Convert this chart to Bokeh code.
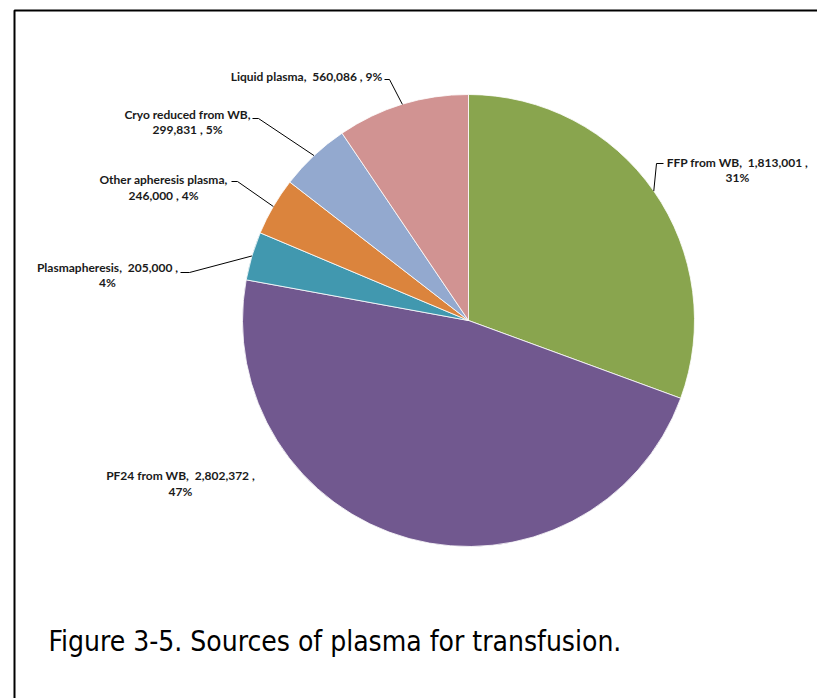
import math
from bokeh.plotting import figure
from bokeh.models import Range1d
from bokeh.core.properties import value
from bokeh.embed import file_html
from bokeh.resources import INLINE

# ---- data ----
categories = ["FFP from WB", "PF24 from WB", "Plasmapheresis",
              "Other apheresis plasma", "Cryo reduced from WB", "Liquid plasma"]
units = [1813001, 2802372, 205000, 246000, 299831, 560086]
percent_labels = [31, 47, 4, 4, 5, 9]
colors = ["#89A54E", "#71588F", "#4198AF", "#DB843D", "#93A9CF", "#D19392"]
title_text = "Figure 3-5. Sources of plasma for transfusion."

# ---- layout (screen-like coordinates) ----
W, H = 817, 698
CX, CY, R = 468, 320, 226
LABEL_FONT = value("Lato")
LABEL_SIZE = "12px"
SP2 = "\u00a0 "  # double space that survives svg whitespace collapsing

total = sum(units)
fracs = [u / total for u in units]

p = figure(width=W, height=H, output_backend="svg", toolbar_location=None,
           x_range=Range1d(0, W), y_range=Range1d(H, 0),
           min_border=0, outline_line_color=None)
p.axis.visible = False
p.grid.visible = False
p.background_fill_color = "white"
p.border_fill_color = "white"

# frame border
p.line([14, 14, 840], [720, 10, 10], line_color="black", line_width=2)

# wedges (clockwise from 12 o'clock)
starts, ends, mids = [], [], []
cum = 0.0
for f in fracs:
    a0 = math.pi / 2 - cum * 2 * math.pi
    cum += f
    a1 = math.pi / 2 - cum * 2 * math.pi
    starts.append(a0)
    ends.append(a1)
    mids.append((a0 + a1) / 2)

p.wedge(x=[CX] * len(units), y=[CY] * len(units), radius=R,
        start_angle=starts, end_angle=ends, direction="clock",
        fill_color=colors, line_color="white", line_width=0.8)

# label texts
def fmt(n):
    return f"{n:,}"

c, u, pc = categories, units, percent_labels
label_lines = {
    0: [f"{c[0]},{SP2}{fmt(u[0])} ,", f"{pc[0]}%"],
    1: [f"{c[1]},{SP2}{fmt(u[1])} ,", f"{pc[1]}%"],
    2: [f"{c[2]},{SP2}{fmt(u[2])} ,", f"{pc[2]}%"],
    3: [f"{c[3]},", f"{fmt(u[3])} , {pc[3]}%"],
    4: [f"{c[4]},", f"{fmt(u[4])} , {pc[4]}%"],
    5: [f"{c[5]},{SP2}{fmt(u[5])} , {pc[5]}%"],
}
label_pos = {  # center x, first-line y, line step
    0: (737, 162, 15),
    1: (180, 475, 16),
    2: (107, 267, 15),
    3: (163, 179, 16),
    4: (187, 114, 15),
    5: (306, 76, 15),
}
elbows = {  # elbow point, stub end
    0: ((656, 163), (663, 163)),
    2: ((189, 272), (180, 272)),
    3: ((237, 181), (231, 181)),
    4: ((258, 118), (252, 118)),
    5: ((389, 79), (384, 79)),
}

tx, ty, tt = [], [], []
for i, lines in label_lines.items():
    cx, y0, step = label_pos[i]
    for k, s in enumerate(lines):
        tx.append(cx)
        ty.append(y0 + k * step)
        tt.append(s)
p.text(x=tx, y=ty, text=tt, text_align="center", text_baseline="middle",
       text_font=LABEL_FONT, text_font_size=LABEL_SIZE, text_font_style="bold",
       text_color="#1a1a1a")

xs, ys = [], []
for i, (el, end) in elbows.items():
    a = mids[i]
    sx = CX + R * math.cos(a)
    sy = CY - R * math.sin(a)
    xs.append([sx, el[0], end[0]])
    ys.append([sy, el[1], end[1]])
p.multi_line(xs=xs, ys=ys, line_color="black", line_width=1)

# caption
p.text(x=[48], y=[641], text=[title_text], text_align="left",
       text_baseline="middle", text_font=value("DejaVu Sans Condensed"),
       text_font_size="28px", text_color="black")

open("out.html", "w").write(file_html(p, INLINE))
